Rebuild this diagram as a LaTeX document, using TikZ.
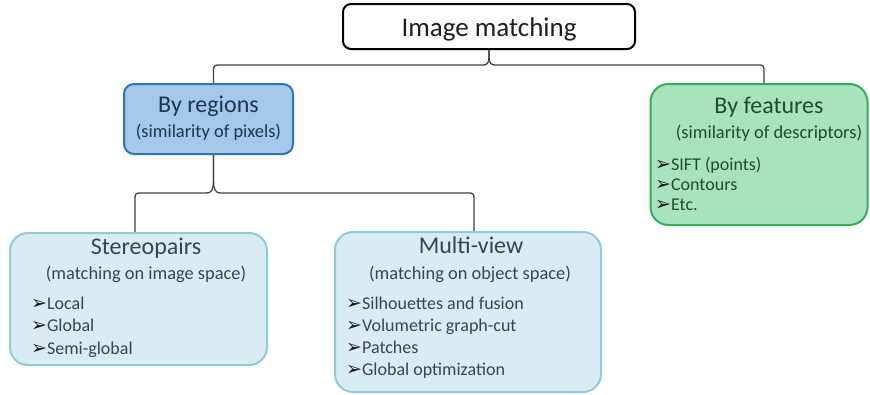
\documentclass[tikz,border=0pt]{standalone}
\usepackage{fontspec}
\setmainfont{Carlito}
\newfontfamily\symf{DejaVu Sans}
\usetikzlibrary{calc}
\definecolor{conncol}{RGB}{64,64,64}
\definecolor{regfill}{RGB}{163,200,233}
\definecolor{regdraw}{RGB}{46,117,182}
\definecolor{regtext}{RGB}{30,52,80}
\definecolor{featfill}{RGB}{168,226,190}
\definecolor{featdraw}{RGB}{52,176,84}
\definecolor{feattext}{RGB}{28,78,44}
\definecolor{subfill}{RGB}{218,236,243}
\definecolor{subdraw}{RGB}{146,202,218}
\definecolor{subtext}{RGB}{58,68,78}
\definecolor{arrcol}{RGB}{25,25,25}
\newcommand\arr{{\symf\fontsize{19}{19}\selectfont\color{arrcol}➢}}
\tikzset{
  box/.style={draw, line width=2pt, inner sep=0pt},
  conn/.style={draw=conncol, line width=1.3pt},
  title/.style={anchor=base, inner sep=0pt, font=\fontsize{24}{28}\selectfont},
  subt/.style={anchor=base, inner sep=0pt, font=\fontsize{18.4}{22}\selectfont},
  item/.style={anchor=base west, inner sep=0pt, font=\fontsize{18}{22}\selectfont},
}
\begin{document}
\begin{tikzpicture}[x=1pt,y=-1pt]
\useasboundingbox (0,0) rectangle (870,394);
% boxes
\node[box, draw=black, fill=white, rounded corners=8pt, minimum width=292pt, minimum height=45pt] (root) at (489,26.5) {};
\node[box, draw=regdraw, fill=regfill, rounded corners=10pt, minimum width=169pt, minimum height=70pt] (reg) at (208.5,119) {};
\node[box, draw=featdraw, fill=featfill, rounded corners=18pt, minimum width=217pt, minimum height=141pt] (feat) at (759,154.5) {};
\node[box, draw=subdraw, fill=subfill, rounded corners=18pt, minimum width=257pt, minimum height=132pt] (stereo) at (138.5,299) {};
\node[box, draw=subdraw, fill=subfill, rounded corners=18pt, minimum width=266pt, minimum height=160pt] (multi) at (468,312) {};
% texts
\node[anchor=base, inner sep=0pt, font=\fontsize{27}{30}\selectfont, text={rgb,255:red,30;green,30;blue,30}] (roott) at (489,36) {Image matching};
\node[title, text=regtext] (regt) at (208.5,112.3) {By regions};
\node[subt, text=regtext] (regs) at (208.5,137.3) {(similarity of pixels)};
\node[title, text=feattext] (featt) at (769,113.3) {By features};
\node[subt, text=feattext] (feats) at (769,138.3) {(similarity of descriptors)};
\node[item, text=feattext] (f1) at (655,170) {\arr SIFT (points)};
\node[item, text=feattext] (f2) at (655,190.3) {\arr Contours};
\node[item, text=feattext] (f3) at (655,210.7) {\arr Etc.};
\node[title, text=subtext] (stt) at (146,254.3) {Stereopairs};
\node[subt, text=subtext] (sts) at (146,279) {(matching on image space)};
\node[item, text=subtext] (s1) at (31,309) {\arr Local};
\node[item, text=subtext] (s2) at (31,331.5) {\arr Global};
\node[item, text=subtext] (s3) at (31,354) {\arr Semi-global};
\node[title, text=subtext] (mvt) at (471,253.3) {Multi-view};
\node[subt, text=subtext] (mvs) at (470,279) {(matching on object space)};
\node[item, text=subtext] (m1) at (346,309) {\arr Silhouettes and fusion};
\node[item, text=subtext] (m2) at (346,331.3) {\arr Volumetric graph-cut};
\node[item, text=subtext] (m3) at (346,353.5) {\arr Patches};
\node[item, text=subtext] (m4) at (346,375.7) {\arr Global optimization};
% top brace
\coordinate (b1) at (root.south |- 0,65);
\coordinate (regtop) at ($(reg.north)+(5,0)$);
\coordinate (feattop) at ($(feat.north)+(5,0)$);
\path[conn] (root.south) -- ($(b1)+(0,-8)$)
  .. controls ($(b1)+(0,-2)$) and ($(b1)+(-2,0)$) .. ($(b1)+(-6,0)$)
  -- ($(regtop |- b1)+(5,0)$)
  .. controls ($(regtop |- b1)+(1,0)$) and ($(regtop |- b1)+(0,1)$) .. ($(regtop |- b1)+(0,5)$)
  -- (regtop);
\path[conn] (root.south) -- ($(b1)+(0,-8)$)
  .. controls ($(b1)+(0,-2)$) and ($(b1)+(2,0)$) .. ($(b1)+(6,0)$)
  -- ($(feattop |- b1)+(-5,0)$)
  .. controls ($(feattop |- b1)+(-1,0)$) and ($(feattop |- b1)+(0,1)$) .. ($(feattop |- b1)+(0,5)$)
  -- (feattop);
% second brace
\coordinate (regbot) at ($(reg.south)+(5,0)$);
\coordinate (b2) at (regbot |- 0,193);
\coordinate (sttop) at ($(stereo.north)+(-3.5,0)$);
\coordinate (mvtop) at ($(multi.north)+(6,0)$);
\path[conn] (regbot) -- ($(b2)+(0,-14)$)
  .. controls ($(b2)+(0,-3)$) and ($(b2)+(-2,0)$) .. ($(b2)+(-7,0)$)
  -- ($(sttop |- b2)+(5,0)$)
  .. controls ($(sttop |- b2)+(1,0)$) and ($(sttop |- b2)+(0,1)$) .. ($(sttop |- b2)+(0,5)$)
  -- (sttop);
\path[conn] (regbot) -- ($(b2)+(0,-14)$)
  .. controls ($(b2)+(0,-3)$) and ($(b2)+(2,0)$) .. ($(b2)+(7,0)$)
  -- ($(mvtop |- b2)+(-5,0)$)
  .. controls ($(mvtop |- b2)+(-1,0)$) and ($(mvtop |- b2)+(0,1)$) .. ($(mvtop |- b2)+(0,5)$)
  -- (mvtop);
\end{tikzpicture}
\end{document}
